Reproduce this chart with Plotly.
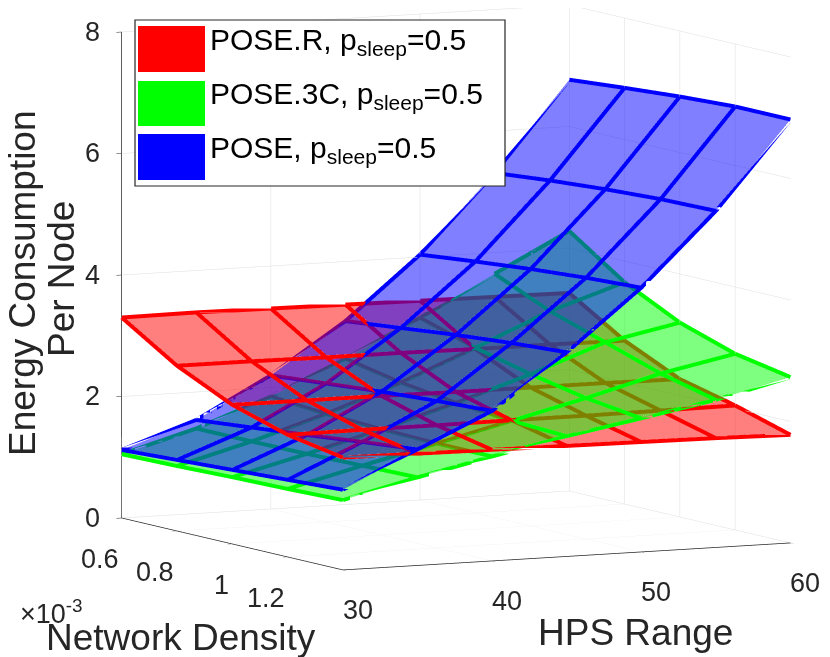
import plotly.graph_objects as go

# grid (density in units of 1e-3)
density = [0.6, 0.8, 1.0, 1.2, 1.4]
hps_range = [30, 35, 40, 45, 50, 55, 60]

# energy per node, rows = HPS range, cols = density
pose_r = [
    [3.30, 2.72, 2.29, 2.01, 1.85],
    [3.31, 2.72, 2.29, 2.02, 1.84],
    [3.30, 2.71, 2.29, 2.02, 1.83],
    [3.29, 2.71, 2.28, 2.03, 1.82],
    [3.28, 2.70, 2.28, 2.03, 1.81],
    [3.27, 2.70, 2.28, 2.04, 1.80],
    [3.26, 2.69, 2.27, 2.05, 1.78],
]
pose_3c = [
    [1.05, 1.07, 1.10, 1.12, 1.15],
    [1.40, 1.40, 1.41, 1.43, 1.45],
    [1.85, 1.78, 1.74, 1.72, 1.72],
    [2.40, 2.22, 2.10, 2.02, 1.98],
    [3.00, 2.72, 2.50, 2.32, 2.20],
    [3.65, 3.25, 2.95, 2.65, 2.43],
    [4.28, 3.65, 3.20, 2.90, 2.73],
]
pose = [
    [1.12, 1.17, 1.22, 1.27, 1.32],
    [1.54, 1.63, 1.72, 1.82, 1.91],
    [2.20, 2.28, 2.36, 2.42, 2.47],
    [3.02, 3.12, 3.22, 3.30, 3.36],
    [4.04, 4.14, 4.23, 4.30, 4.35],
    [5.31, 5.40, 5.47, 5.52, 5.54],
    [6.77, 6.85, 6.92, 6.97, 6.97],
]

density_ticks = [0.6, 0.8, 1.0, 1.2]
density_labels = ["0.6", "0.8", "1", "1.2"]
hps_ticks = [30, 40, 50, 60]
energy_ticks = [0, 2, 4, 6, 8]

series = [
    ("POSE.R", pose_r, "rgb(255,0,0)"),
    ("POSE.3C", pose_3c, "rgb(0,255,0)"),
    ("POSE", pose, "rgb(0,0,255)"),
]

FONT = "Liberation Sans, Arial, sans-serif"
TXT = "#262626"

fig = go.Figure()
for name, zz, col in series:
    fig.add_trace(go.Surface(
        x=density, y=hps_range, z=zz,
        colorscale=[[0, col], [1, col]],
        opacity=0.5, showscale=False, name=name,
        lighting=dict(ambient=1, diffuse=0, specular=0, roughness=1, fresnel=0),
        hoverinfo="skip",
    ))
    # mesh edges
    xs, ys, zs = [], [], []
    for i, h in enumerate(hps_range):
        xs += density + [None]
        ys += [h] * len(density) + [None]
        zs += zz[i] + [None]
    for j, d in enumerate(density):
        xs += [d] * len(hps_range) + [None]
        ys += hps_range + [None]
        zs += [row[j] for row in zz] + [None]
    fig.add_trace(go.Scatter3d(
        x=xs, y=ys, z=zs, mode="lines",
        line=dict(color=col, width=8),
        showlegend=False, hoverinfo="skip",
    ))

ax = dict(
    showbackground=False, gridcolor="#dedede", gridwidth=1,
    showline=True, linecolor=TXT, linewidth=1.5,
    ticks="outside", tickcolor=TXT, ticklen=6,
    showticklabels=False,
    zeroline=False, showspikes=False, title=dict(text=""),
)

# tick labels as upright text anchored at the axis positions
tickfont = dict(family=FONT, size=27, color=TXT)
scene_annots = []
for v in energy_ticks:
    scene_annots.append(dict(x=0.6, y=30, z=v, text=str(v), showarrow=False,
                             xanchor="right", yanchor="middle", xshift=-20, font=tickfont))
for d, lab in zip(density_ticks, density_labels):
    scene_annots.append(dict(x=d, y=30, z=0, text=lab, showarrow=False,
                             xanchor="right", yanchor="top", xshift=-1, yshift=-24,
                             font=tickfont))
for h in hps_ticks:
    scene_annots.append(dict(x=1.4, y=h, z=0, text=str(h), showarrow=False,
                             xanchor="left", yanchor="top", xshift=-2, yshift=-23,
                             font=tickfont))

# view: azimuth about -27 deg, elevation about 7 deg
view = (0.886, -0.449, 0.119)
shift = (-0.0298, -0.0978, -0.1482)
S = 1.49
fig.update_layout(
    width=830, height=657,
    margin=dict(l=0, r=0, t=0, b=0),
    paper_bgcolor="white",
    showlegend=False,
    scene=dict(
        domain=dict(x=[0, 1], y=[0, 1]),
        xaxis=dict(ax, range=[0.6, 1.4], tickvals=density_ticks),
        yaxis=dict(ax, range=[30, 60], tickvals=hps_ticks),
        zaxis=dict(ax, range=[0, 8], tickvals=energy_ticks),
        aspectmode="manual",
        aspectratio=dict(x=S, y=S * 1.025, z=S),
        camera=dict(
            eye=dict(x=2 * view[0] + shift[0], y=2 * view[1] + shift[1],
                     z=2 * view[2] + shift[2]),
            up=dict(x=0, y=0, z=1),
            center=dict(x=shift[0], y=shift[1], z=shift[2]),
            projection=dict(type="orthographic"),
        ),
        annotations=scene_annots,
    ),
)

W, H = 830, 657
def px(x, y):
    return x / W, 1 - y / H

annots = []
# axis titles
for txt, (x, y), ang in [
    ("Energy Consumption", (15, 275), -90),
    ("Per Node", (54, 271), -90),
    ("Network Density", (173, 629), 0),
    ("HPS Range", (627, 624), 0),
]:
    ax_, ay_ = px(x, y)
    annots.append(dict(text=txt, x=ax_, y=ay_, xref="paper", yref="paper",
                       xanchor="center", yanchor="middle",
                       showarrow=False, textangle=ang,
                       font=dict(family=FONT, size=37, color=TXT)))
ex, ey = px(43, 604)
annots.append(dict(text="\u00d710<sup>-3</sup>", x=ex, y=ey, xref="paper", yref="paper",
                   xanchor="center", yanchor="middle",
                   showarrow=False, font=dict(family=FONT, size=27, color=TXT)))

# legend drawn as patches + labels
shapes = []
lx0, ly0 = px(127, 12)
lx1, ly1 = px(497, 178)
shapes.append(dict(type="rect", xref="paper", yref="paper", x0=lx0, x1=lx1, y0=ly1, y1=ly0,
                   line=dict(color=TXT, width=1.2), fillcolor="white", layer="above"))
patch_y = [(18, 64), (73, 118), (126, 172)]
for (name, zz, col), (py0, py1) in zip(series, patch_y):
    x0, y0 = px(130, py0)
    x1, y1 = px(197, py1)
    shapes.append(dict(type="rect", xref="paper", yref="paper", x0=x0, x1=x1, y0=y1, y1=y0,
                       line=dict(width=0), fillcolor=col, layer="above"))
    tx, ty = px(200, (py0 + py1) / 2 - 8)
    annots.append(dict(text=f"{name}, p<sub>sleep</sub>=0.5", x=tx, y=ty,
                       xref="paper", yref="paper", xanchor="left", yanchor="middle",
                       showarrow=False, font=dict(family=FONT, size=30, color="black")))

fig.update_layout(annotations=annots, shapes=shapes)
fig.write_html("out.html")
